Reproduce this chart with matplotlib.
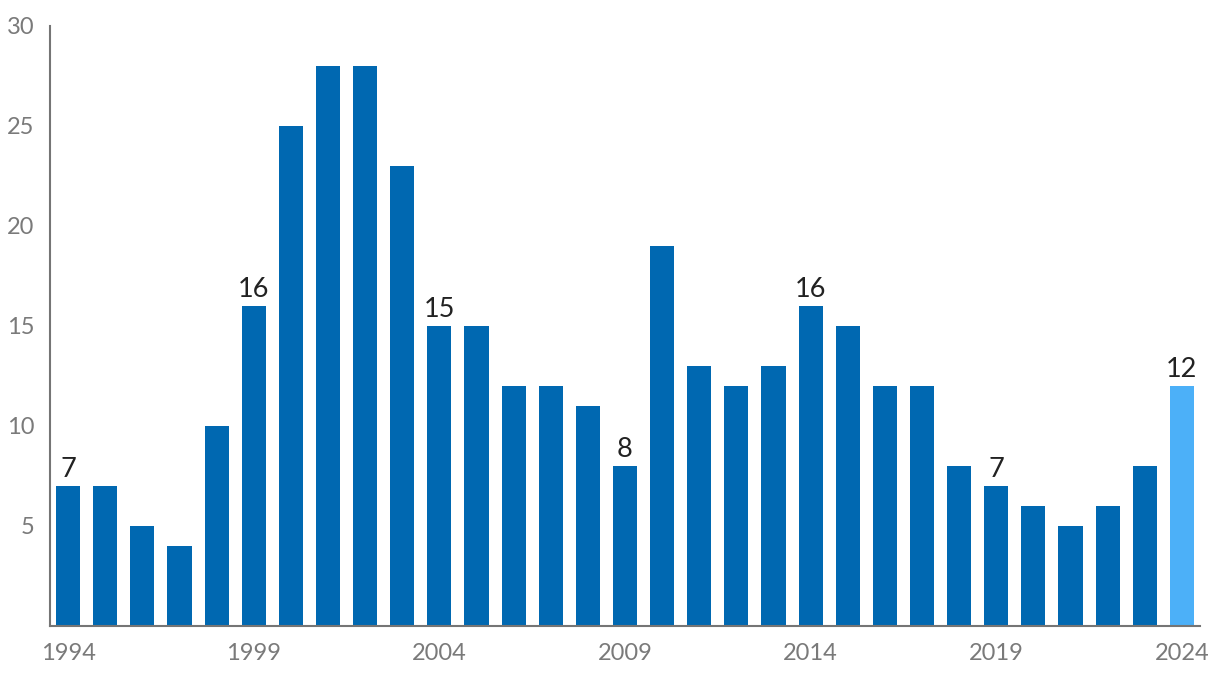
import matplotlib
matplotlib.use("Agg")
import matplotlib.pyplot as plt

years = list(range(1994, 2025))
values = [7, 7, 5, 4, 10, 16, 25, 28, 28, 23, 15, 15, 12, 12, 11, 8, 19,
          13, 12, 13, 16, 15, 12, 12, 8, 7, 6, 5, 6, 8, 12]
labeled_years = [1994, 1999, 2004, 2009, 2014, 2019, 2024]
xtick_years = [1994, 1999, 2004, 2009, 2014, 2019, 2024]
ytick_vals = [5, 10, 15, 20, 25, 30]

plt.rcParams['font.family'] = ['Lato', 'DejaVu Sans']

W, H = 1220, 684
fig = plt.figure(figsize=(W / 100, H / 100), dpi=100)
ax = fig.add_axes([50 / W, (H - 626) / H, (1200 - 50) / W, (626 - 26) / H])

colors = ['#0068b1'] * (len(years) - 1) + ['#4cb0f8']
ax.bar(years, values, width=0.65, color=colors, zorder=2)

for y, v in zip(years, values):
    if y in labeled_years:
        ax.text(y, v + 0.18, str(v), ha='center', va='bottom', fontsize=19.5, color='#222222')

ax.set_xlim(1994 - 0.49, 2024 + 0.49)
ax.set_ylim(0, 30)
ax.set_xticks(xtick_years)
ax.set_xticklabels([str(y) for y in xtick_years])
ax.set_yticks(ytick_vals)
ax.tick_params(axis='both', length=0, labelsize=17, colors='#7a7a7a')
ax.tick_params(axis='x', pad=12)
ax.tick_params(axis='y', pad=11)
for s in ['top', 'right']:
    ax.spines[s].set_visible(False)
for s in ['left', 'bottom']:
    ax.spines[s].set_color('#757575')
    ax.spines[s].set_linewidth(1.5)

fig.savefig('out.png', dpi=100)
